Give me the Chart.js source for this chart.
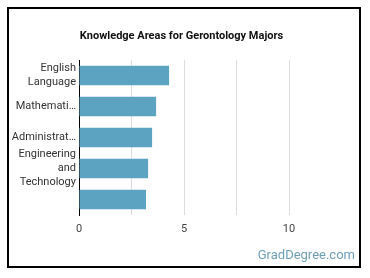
<!DOCTYPE html>
<html>
<head>
<meta charset="utf-8">
<script src="https://cdn.jsdelivr.net/npm/chart.js@4"></script>
<style>
  html, body { margin: 0; padding: 0; background: #fff; }
  #wrap { position: relative; width: 370px; height: 278px; overflow: hidden; }
  #frame { position: absolute; left: 7px; top: 7px; width: 350px; height: 257px; border: 2px solid #000; pointer-events: none; }
  #c { position: absolute; left: 0; top: 0; }
  #brand { position: absolute; right: 15px; top: 247px; font: 13px Roboto, sans-serif; color: #6d9fb9; }
</style>
</head>
<body>
<div id="wrap">
  <canvas id="c" width="370" height="278"></canvas>
  <div id="frame"></div>
  <div id="brand">GradDegree.com</div>
</div>
<script>
const categories = [["English", "Language"], "Mathemati…", "Administrat…", ["Engineering", "and", "Technology"], ""];
const values = [4.29, 3.67, 3.48, 3.29, 3.19];
const xTickLabels = [0, 5, 10];
const titleText = "Knowledge Areas for Gerontology Majors";

new Chart(document.getElementById('c'), {
  type: 'bar',
  data: {
    labels: categories,
    datasets: [{
      data: values,
      backgroundColor: '#5ba3c1',
      borderWidth: 0,
      categoryPercentage: 0.7,
      barPercentage: 0.9
    }]
  },
  options: {
    indexAxis: 'y',
    responsive: false,
    animation: false,
    events: [],
    layout: { padding: { top: 0, left: 8, right: 15, bottom: 20 } },
    plugins: {
      legend: { display: false },
      tooltip: { enabled: false },
      title: {
        display: true,
        text: titleText,
        color: '#111',
        font: { family: 'Roboto', size: 11, weight: 'bold', lineHeight: 1.2 },
        padding: { top: 30, bottom: 16.8 }
      }
    },
    scales: {
      x: {
        min: 0,
        max: 13.14,
        afterFit: s => { s.height = 43; },
        afterBuildTicks: s => {
          const t = [];
          for (let v = 0; v <= 12.5; v += 2.5) t.push({ value: v });
          s.ticks = t;
        },
        grid: {
          color: ctx => (ctx.tick && ctx.tick.value <= 10) ? '#dddddd' : 'rgba(0,0,0,0)',
          drawTicks: false
        },
        border: { display: false },
        ticks: {
          padding: 8,
          color: '#444',
          font: { family: 'Roboto', size: 11 },
          maxRotation: 0,
          autoSkip: false,
          callback: v => xTickLabels.includes(v) ? String(v) : ''
        }
      },
      y: {
        afterFit: s => { s.width = 71; },
        grid: { display: false, drawTicks: false },
        border: { display: true, color: '#000', width: 1 },
        ticks: {
          padding: 3,
          color: '#333',
          font: { family: 'Roboto', size: 11, lineHeight: 1.27 },
          autoSkip: false
        }
      }
    }
  }
});
</script>
</body>
</html>
